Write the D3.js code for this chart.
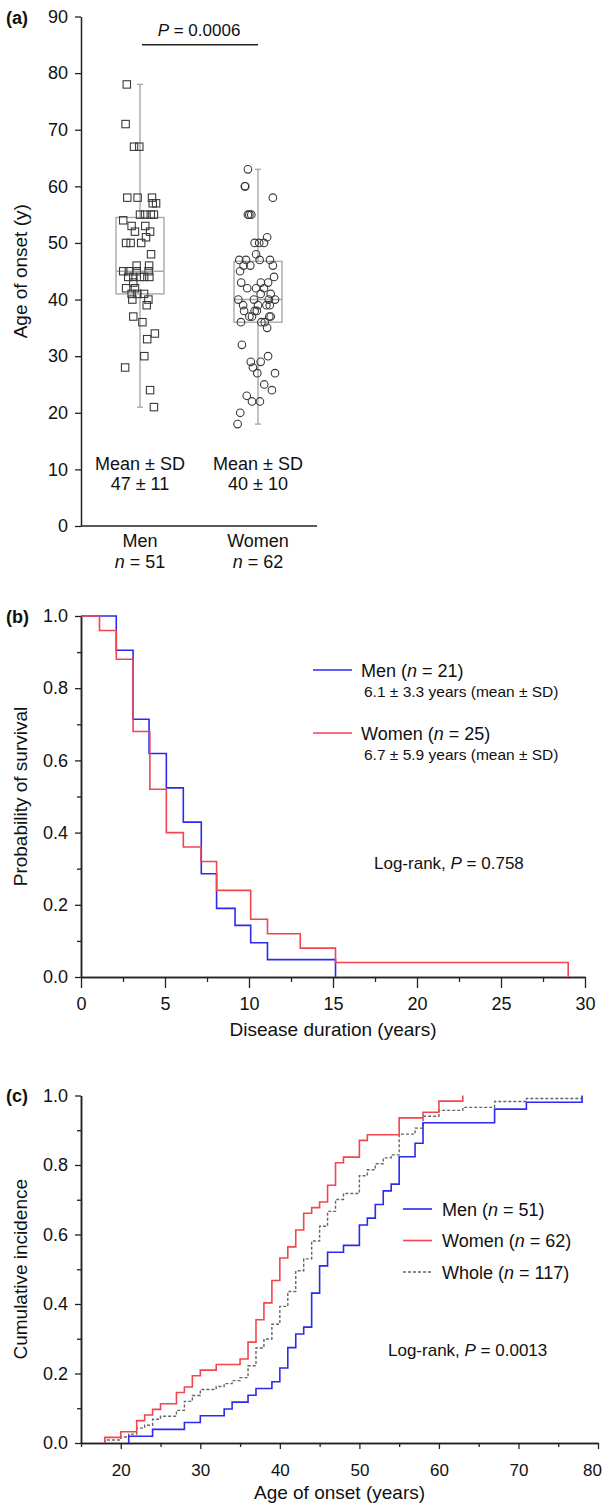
<!DOCTYPE html>
<html>
<head>
<meta charset="utf-8">
<script src="https://cdn.jsdelivr.net/npm/d3@7"></script>
<style>
  body { margin: 0; background: #fff; }
  svg { display: block; }
  text { font-family: "Liberation Sans", Arial, Helvetica, sans-serif; fill: #111; }
</style>
</head>
<body>
<script>
// ---------- panel (a): age of onset by sex ----------
var groups = ['Men', 'Women'];
var groupN = [51, 62];
var groupStats = ['47 ± 11', '40 ± 10'];
var onsetTicks = [0, 10, 20, 30, 40, 50, 60, 70, 80, 90];
var pValueA = '0.0006';

var menAges = [21, 24, 28, 30, 33, 34, 36, 37, 39, 40, 40, 41, 41, 41, 42, 42, 43, 44, 44, 44, 44, 44,
	45, 45, 45, 45, 46, 46, 48, 50, 50, 50, 51, 52, 52, 53, 53, 54, 55, 55, 55, 55, 57, 57, 58, 58, 58,
	67, 67, 71, 78];
// horizontal scatter of each point, in box half-widths
var menJitter = [0.58, 0.42, -0.62, 0.18, 0.3, 0.62, 0.1, -0.28, 0.28, -0.32, 0.35, -0.35, -0.11, 0.17,
	-0.58, -0.21, -0.28, -0.49, -0.28, 0, 0.39, 0.17, -0.7, -0.46, -0.14, 0.36, -0.14, 0.38, 0.46, -0.39,
	0.05, -0.58, 0.25, -0.21, 0.42, -0.35, 0.22, -0.7, 0, 0.21, 0.45, 0.58, 0.53, 0.67, -0.53, -0.1, 0.5,
	-0.25, -0.03, -0.6, -0.55];

var womenAges = [18, 20, 22, 22, 23, 24, 25, 27, 27, 28, 29, 29, 30, 32, 35, 36, 36, 36, 37, 37, 37, 37,
	38, 38, 38, 39, 39, 39, 39, 40, 40, 40, 40, 41, 41, 42, 42, 42, 43, 43, 43, 44, 45, 46, 46, 46,
	47, 47, 47, 47, 48, 50, 50, 50, 51, 55, 55, 55, 58, 60, 60, 63];
var womenJitter = [-0.85, -0.74, -0.25, 0.08, -0.47, 0.58, 0.26, -0.03, 0.71, -0.21, -0.3, 0.11, 0.42,
	-0.67, 0.38, -0.71, 0.14, 0.28, -0.36, -0.25, 0.47, 0.53, -0.58, -0.14, -0.05, -0.62, 0, 0.35, 0.49,
	-0.82, -0.17, 0.45, 0.71, 0.11, 0.53, -0.45, -0.08, 0.25, -0.7, 0.12, 0.42, 0.67, -0.75, -0.6, -0.32,
	0.62, -0.78, -0.5, 0.07, 0.5, -0.08, -0.14, 0.05, 0.25, 0.38, -0.42, -0.36, -0.28, 0.62, -0.55, -0.53,
	-0.42];

// ---------- panel (b): survival ----------
var kmMenTime = [2.1, 3.1, 4.05, 5.08, 6.09, 7.16, 8.07, 9.17, 10.1, 11.1, 15.15];
var kmMenSurv = [0.905, 0.714, 0.619, 0.524, 0.429, 0.286, 0.19, 0.143, 0.095, 0.048, 0];
var kmWomenTime = [1.1, 2.1, 3.1, 4.1, 5.08, 6.09, 7.14, 8.07, 10.1, 11.1, 13.05, 15.15, 29];
var kmWomenSurv = [0.96, 0.88, 0.68, 0.52, 0.4, 0.36, 0.32, 0.24, 0.16, 0.12, 0.08, 0.04, 0];
var kmN = [21, 25];
var kmMeans = ['6.1 ± 3.3 years (mean ± SD)', '6.7 ± 5.9 years (mean ± SD)'];
var pValueB = '0.758';
var durTicks = [0, 5, 10, 15, 20, 25, 30];
var durMinor = [2.5, 7.5, 12.5, 17.5, 22.5, 27.5];
var probTicks = [0, 0.2, 0.4, 0.6, 0.8, 1.0];
var probMinor = [0.1, 0.3, 0.5, 0.7, 0.9];

// ---------- panel (c): cumulative incidence ----------
// patients counted only in the whole cohort
var otherAges = [28, 37, 42, 42];
var wholeN = 117;
var pValueC = '0.0013';
var ageTicksC = [20, 30, 40, 50, 60, 70, 80];
var ageMinorC = [15, 25, 35, 45, 55, 65, 75];

var blue = '#2a2af2', red = '#f2464f', grey = '#666', boxGrey = '#a9a9a9', ink = '#222';

var svg = d3.select('body').append('svg').attr('width', 605).attr('height', 1506);

function styleAxis(g, size) {
	g.select('.domain').attr('stroke', ink).attr('stroke-width', 1.5);
	g.selectAll('.tick line').attr('stroke', ink).attr('stroke-width', 1.3);
	g.selectAll('.tick text').attr('fill', '#111').style('font-size', (size || 18) + 'px')
		.style('font-family', '"Liberation Sans", Arial, sans-serif');
}

function panelLabel(txt, y) {
	svg.append('text').attr('x', 6).attr('y', y).text(txt)
		.style('font-size', '18px').style('font-weight', 'bold');
}

function yTitle(txt, cy) {
	svg.append('text').attr('transform', 'translate(27,' + cy + ') rotate(-90)')
		.attr('text-anchor', 'middle').style('font-size', '19px').text(txt);
}

// ================= (a) =================
var xA = d3.scalePoint().domain(groups).range([81, 317]).padding(0.5);
var yA = d3.scaleLinear().domain([0, 90]).range([526, 16.5]);
var jit = d3.scaleLinear().domain([-1, 1]).range([-24, 24]);

svg.append('g').attr('transform', 'translate(81,0)')
	.call(d3.axisLeft(yA).tickValues(onsetTicks).tickSize(6).tickSizeOuter(0).tickPadding(7))
	.call(styleAxis);
svg.append('g').attr('transform', 'translate(0,' + yA(0) + ')')
	.call(d3.axisBottom(xA).tickSize(0).tickSizeOuter(0).tickFormat(''))
	.call(function (g) {
		g.select('.domain').attr('d', 'M81,0H317').attr('stroke', ink).attr('stroke-width', 1.5);
	});

panelLabel('(a)', 24);
yTitle('Age of onset (y)', (yA(0) + yA(90)) / 2);

var sets = [
	{ name: 'Men', ages: menAges, jitter: menJitter, shape: 'square' },
	{ name: 'Women', ages: womenAges, jitter: womenJitter, shape: 'circle' }
];

sets.forEach(function (s, i) {
	var cx = xA(s.name);
	var sorted = s.ages.slice().sort(d3.ascending);
	var q1 = d3.quantile(sorted, 0.25), med = d3.quantile(sorted, 0.5), q3 = d3.quantile(sorted, 0.75);
	var lo = d3.min(sorted), hi = d3.max(sorted);
	var box = svg.append('g').attr('stroke', boxGrey).attr('stroke-width', 1.4).attr('fill', 'none');
	box.append('line').attr('x1', cx).attr('x2', cx).attr('y1', yA(lo)).attr('y2', yA(hi));
	box.append('line').attr('x1', cx - 3).attr('x2', cx + 3).attr('y1', yA(lo)).attr('y2', yA(lo));
	box.append('line').attr('x1', cx - 3).attr('x2', cx + 3).attr('y1', yA(hi)).attr('y2', yA(hi));
	box.append('rect').attr('x', cx + jit(-1)).attr('width', jit(1) - jit(-1))
		.attr('y', yA(q3)).attr('height', yA(q1) - yA(q3)).attr('fill', '#fff');
	box.append('line').attr('x1', cx + jit(-1)).attr('x2', cx + jit(1)).attr('y1', yA(med)).attr('y2', yA(med));

	var pts = svg.append('g').attr('stroke', '#3a3a3a').attr('stroke-width', 1.1).attr('fill', 'none');
	var data = s.ages.map(function (a, k) { return { age: a, j: s.jitter[k] }; });
	if (s.shape === 'square') {
		pts.selectAll('rect').data(data).enter().append('rect')
			.attr('x', function (d) { return cx + jit(d.j) - 3.7; })
			.attr('y', function (d) { return yA(d.age) - 3.7; })
			.attr('width', 7.4).attr('height', 7.4);
	} else {
		pts.selectAll('circle').data(data).enter().append('circle')
			.attr('cx', function (d) { return cx + jit(d.j); })
			.attr('cy', function (d) { return yA(d.age); })
			.attr('r', 3.8);
	}

	svg.append('text').attr('x', cx).attr('y', 470).attr('text-anchor', 'middle')
		.style('font-size', '18px').text('Mean ± SD');
	svg.append('text').attr('x', cx).attr('y', 490).attr('text-anchor', 'middle')
		.style('font-size', '18px').text(groupStats[i]);
	svg.append('text').attr('x', cx).attr('y', 547).attr('text-anchor', 'middle')
		.style('font-size', '18px').text(s.name);
	var nt = svg.append('text').attr('x', cx).attr('y', 568).attr('text-anchor', 'middle').style('font-size', '18px');
	nt.append('tspan').style('font-style', 'italic').text('n');
	nt.append('tspan').text(' = ' + groupN[i]);
});

svg.append('line').attr('x1', xA('Men') + 2).attr('x2', xA('Women')).attr('y1', yA(85)).attr('y2', yA(85))
	.attr('stroke', ink).attr('stroke-width', 1.4);
var pa = svg.append('text').attr('x', (xA('Men') + xA('Women')) / 2).attr('y', yA(86.6))
	.attr('text-anchor', 'middle').style('font-size', '17px');
pa.append('tspan').style('font-style', 'italic').text('P');
pa.append('tspan').text(' = ' + pValueA);

// ================= (b) =================
var xB = d3.scaleLinear().domain([0, 30]).range([81, 585]);
var yB = d3.scaleLinear().domain([0, 1]).range([977, 616]);

svg.append('g').attr('transform', 'translate(81,0)')
	.call(d3.axisLeft(yB).tickValues(probMinor).tickSize(4).tickSizeOuter(0).tickFormat(''))
	.call(styleAxis);
svg.append('g').attr('transform', 'translate(81,0)')
	.call(d3.axisLeft(yB).tickValues(probTicks).tickSize(6).tickSizeOuter(0).tickPadding(7).tickFormat(d3.format('.1f')))
	.call(styleAxis);
svg.append('g').attr('transform', 'translate(0,' + yB(0) + ')')
	.call(d3.axisBottom(xB).tickValues(durMinor).tickSize(5).tickSizeOuter(0).tickFormat(''))
	.call(styleAxis);
svg.append('g').attr('transform', 'translate(0,' + yB(0) + ')')
	.call(d3.axisBottom(xB).tickValues(durTicks).tickSize(11).tickSizeOuter(0).tickPadding(9))
	.call(styleAxis);

panelLabel('(b)', 623);
yTitle('Probability of survival', (yB(0) + yB(1)) / 2);
svg.append('text').attr('x', (xB(0) + xB(30)) / 2).attr('y', 1036).attr('text-anchor', 'middle')
	.style('font-size', '19px').text('Disease duration (years)');

var kmLine = d3.line().x(function (d) { return xB(d[0]); }).y(function (d) { return yB(d[1]); })
	.curve(d3.curveStepAfter);
var kmSeries = [
	{ t: kmMenTime, s: kmMenSurv, color: blue, label: 'Men' },
	{ t: kmWomenTime, s: kmWomenSurv, color: red, label: 'Women' }
];
kmSeries.forEach(function (k, i) {
	var pts = [[0, 1]].concat(k.t.map(function (t, j) { return [t, k.s[j]]; }));
	svg.append('path').attr('d', kmLine(pts)).attr('fill', 'none')
		.attr('stroke', k.color).attr('stroke-width', 1.6);

	var ly = 670 + i * 63;
	svg.append('line').attr('x1', 313).attr('x2', 352).attr('y1', ly).attr('y2', ly)
		.attr('stroke', k.color).attr('stroke-width', 1.6);
	var t = svg.append('text').attr('x', 361).attr('y', ly + 7).style('font-size', '18px');
	t.append('tspan').text(k.label + ' (');
	t.append('tspan').style('font-style', 'italic').text('n');
	t.append('tspan').text(' = ' + kmN[i] + ')');
	svg.append('text').attr('x', 364).attr('y', ly + 27).style('font-size', '15.5px').text(kmMeans[i]);
});
var pb = svg.append('text').attr('x', 374).attr('y', 869).style('font-size', '17px');
pb.append('tspan').text('Log-rank, ');
pb.append('tspan').style('font-style', 'italic').text('P');
pb.append('tspan').text(' = ' + pValueB);

// ================= (c) =================
var xC = d3.scaleLinear().domain([15, 80]).range([81, 598]);
var yC = d3.scaleLinear().domain([0, 1]).range([1443, 1095.5]);

svg.append('g').attr('transform', 'translate(81,0)')
	.call(d3.axisLeft(yC).tickValues(probMinor).tickSize(4).tickSizeOuter(0).tickFormat(''))
	.call(styleAxis);
svg.append('g').attr('transform', 'translate(81,0)')
	.call(d3.axisLeft(yC).tickValues(probTicks).tickSize(6).tickSizeOuter(0).tickPadding(7).tickFormat(d3.format('.1f')))
	.call(styleAxis);
svg.append('g').attr('transform', 'translate(0,' + yC(0) + ')')
	.call(d3.axisBottom(xC).tickValues(ageMinorC).tickSize(4).tickSizeOuter(0).tickFormat(''))
	.call(styleAxis);
svg.append('g').attr('transform', 'translate(0,' + yC(0) + ')')
	.call(d3.axisBottom(xC).tickValues(ageTicksC).tickSize(6).tickSizeOuter(0).tickPadding(15))
	.call(function (g) {
		styleAxis(g, 17);
		// keep the last label inside the picture
		g.selectAll('.tick text').filter(function (d) { return d === 80; }).attr('x', -6);
	});

panelLabel('(c)', 1102);
yTitle('Cumulative incidence', (yC(0) + yC(1)) / 2);
svg.append('text').attr('x', (xC(15) + xC(80)) / 2).attr('y', 1499).attr('text-anchor', 'middle')
	.style('font-size', '19px').text('Age of onset (years)');

// empirical cumulative incidence from the onset ages
function cumulative(ages, n) {
	var counts = d3.rollups(ages, function (v) { return v.length; }, function (d) { return d; })
		.sort(function (a, b) { return a[0] - b[0]; });
	var cum = d3.cumsum(counts, function (d) { return d[1]; });
	var pts = [[counts[0][0], 0]];
	counts.forEach(function (c, i) { pts.push([c[0], cum[i] / n]); });
	return pts;
}
var ciLine = d3.line().x(function (d) { return xC(d[0]); }).y(function (d) { return yC(d[1]); })
	.curve(d3.curveStepAfter);
var ciSeries = [
	{ ages: menAges, n: groupN[0], color: blue, dash: null, label: 'Men' },
	{ ages: womenAges, n: groupN[1], color: red, dash: null, label: 'Women' },
	{ ages: menAges.concat(womenAges, otherAges), n: wholeN, color: grey, dash: '3,2', label: 'Whole' }
];
// draw whole first so the coloured curves sit on top
[2, 0, 1].forEach(function (i) {
	var c = ciSeries[i];
	svg.append('path').attr('d', ciLine(cumulative(c.ages, c.n))).attr('fill', 'none')
		.attr('stroke', c.color).attr('stroke-width', i === 2 ? 1.4 : 1.6)
		.attr('stroke-dasharray', c.dash);
});
ciSeries.forEach(function (c, i) {
	var ly = 1209 + i * 31.5;
	svg.append('line').attr('x1', 403).attr('x2', 432).attr('y1', ly).attr('y2', ly)
		.attr('stroke', c.color).attr('stroke-width', i === 2 ? 1.4 : 1.6).attr('stroke-dasharray', c.dash);
	var t = svg.append('text').attr('x', 442).attr('y', ly + 6.5).style('font-size', '18px');
	t.append('tspan').text(c.label + ' (');
	t.append('tspan').style('font-style', 'italic').text('n');
	t.append('tspan').text(' = ' + c.n + ')');
});
var pc = svg.append('text').attr('x', 388).attr('y', 1356).style('font-size', '17px');
pc.append('tspan').text('Log-rank, ');
pc.append('tspan').style('font-style', 'italic').text('P');
pc.append('tspan').text(' = ' + pValueC);
</script>
</body>
</html>
